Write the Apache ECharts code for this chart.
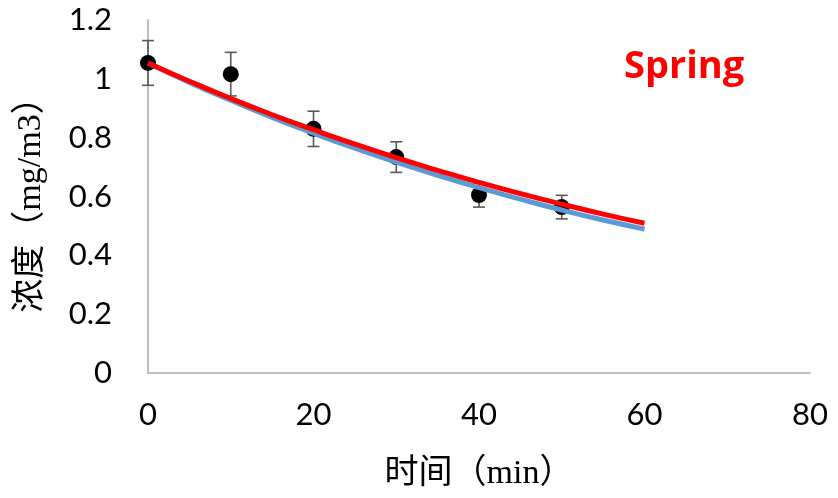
<!DOCTYPE html>
<html>
<head>
<meta charset="utf-8">
<script src="https://cdn.jsdelivr.net/npm/echarts@6/dist/echarts.min.js"></script>
<style>
  html, body { margin: 0; padding: 0; background: #fff; }
  #chart { width: 838px; height: 498px; }
</style>
</head>
<body>
<div id="chart"></div>
<script>
// Measured concentrations with standard deviations
const times = [0, 10, 20, 30, 40, 50];
const means = [1.054, 1.016, 0.830, 0.734, 0.605, 0.564];
const errs  = [0.076, 0.074, 0.060, 0.052, 0.041, 0.040];

// Fitted decay curves, sampled every 5 minutes
const curveTimes = [0, 5, 10, 15, 20, 25, 30, 35, 40, 45, 50, 55, 60];
const blueFit = [1.054, 0.988, 0.927, 0.869, 0.815, 0.764, 0.717, 0.672, 0.630, 0.591, 0.554, 0.520, 0.489];
const redFit  = [1.054, 0.992, 0.933, 0.878, 0.827, 0.778, 0.732, 0.689, 0.648, 0.610, 0.574, 0.540, 0.509];

const xTicks = [0, 20, 40, 60, 80];
const yTicks = [0, 0.2, 0.4, 0.6, 0.8, 1.0, 1.2];

const chart = echarts.init(document.getElementById('chart'), null, { renderer: 'canvas' });

const tickFont = { fontFamily: 'Lato, "Open Sans", sans-serif', fontSize: 31, color: '#000' };
const titleFont = { fontFamily: '"Liberation Serif", "Noto Sans CJK SC", serif', fontSize: 34, color: '#000' };

chart.setOption({
  animation: false,
  backgroundColor: '#fff',
  grid: { left: 148, right: 28, top: 20, bottom: 125 },
  xAxis: {
    type: 'value',
    min: xTicks[0], max: xTicks[xTicks.length - 1], interval: 20,
    name: '时间（min）', nameLocation: 'middle', nameGap: 84,
    nameTextStyle: titleFont,
    axisLine: { show: true, lineStyle: { color: '#BFBFBF', width: 2 } },
    axisTick: { show: false },
    splitLine: { show: false },
    axisLabel: Object.assign({ margin: 26 }, tickFont)
  },
  yAxis: {
    type: 'value',
    min: yTicks[0], max: yTicks[yTicks.length - 1], interval: 0.2,
    name: '浓度（mg/m3）', nameLocation: 'middle', nameGap: 100, nameRotate: 90,
    nameTextStyle: titleFont,
    axisLine: { show: true, lineStyle: { color: '#BFBFBF', width: 2 } },
    axisTick: { show: false },
    splitLine: { show: false },
    axisLabel: Object.assign({ margin: 36, formatter: v => String(+v.toFixed(1)) }, tickFont)
  },
  graphic: [{
    type: 'text', left: 624, top: 48,
    style: { text: 'Spring', fill: '#FF0000', font: 'bold 38px "Open Sans", Lato, sans-serif' }
  }],
  series: [
    {
      type: 'custom',
      z: 1,
      data: times.map((t, i) => [t, means[i] - errs[i], means[i] + errs[i]]),
      renderItem: (params, api) => {
        const lo = api.coord([api.value(0), api.value(1)]);
        const hi = api.coord([api.value(0), api.value(2)]);
        const w = 6;
        const style = { stroke: '#595959', lineWidth: 1.6 };
        return {
          type: 'group',
          children: [
            { type: 'line', shape: { x1: lo[0], y1: lo[1], x2: hi[0], y2: hi[1] }, style },
            { type: 'line', shape: { x1: lo[0] - w, y1: lo[1], x2: lo[0] + w, y2: lo[1] }, style },
            { type: 'line', shape: { x1: hi[0] - w, y1: hi[1], x2: hi[0] + w, y2: hi[1] }, style }
          ]
        };
      }
    },
    {
      type: 'scatter',
      z: 2,
      symbol: 'circle', symbolSize: 16,
      itemStyle: { color: '#000', opacity: 1 },
      data: times.map((t, i) => [t, means[i]])
    },
    {
      type: 'line',
      z: 3,
      smooth: true, showSymbol: false,
      lineStyle: { color: '#5B9BD5', width: 5 },
      data: curveTimes.map((t, i) => [t, blueFit[i]])
    },
    {
      type: 'line',
      z: 4,
      smooth: true, showSymbol: false,
      lineStyle: { color: '#FF0000', width: 5 },
      data: curveTimes.map((t, i) => [t, redFit[i]])
    }
  ]
});
</script>
</body>
</html>
